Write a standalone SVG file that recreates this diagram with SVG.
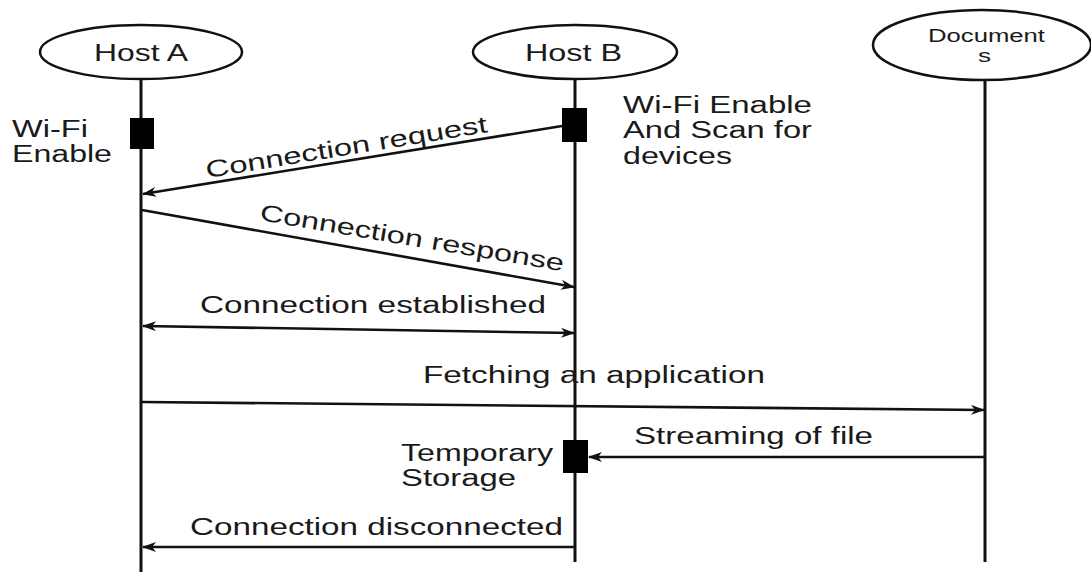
<svg xmlns="http://www.w3.org/2000/svg" width="1091" height="575" viewBox="0 0 1091 575">
<style>
text{font-family:"Liberation Sans",Arial,sans-serif;fill:#1a1a1a;}
.lbl{font-size:23.5px;}
.head{font-size:24px;}
.ell{fill:#fff;stroke:#111;stroke-width:2.5;}
.life{stroke:#111;stroke-width:3;fill:none;}
.bar{fill:#000;}
.msg{stroke:#111;stroke-width:2.6;fill:none;marker-end:url(#ah);}
</style>
<defs>
<marker id="ah" viewBox="0 0 14 10" refX="13" refY="5" markerWidth="14" markerHeight="10" markerUnits="userSpaceOnUse" orient="auto-start-reverse">
<path d="M0,0 L14,5 L0,10 L4,5 Z" fill="#111"/>
</marker>
</defs>
<rect width="1091" height="575" fill="#fff"/>
<g id="hostA">
<line class="life" x1="141" y1="79" x2="141" y2="572"/>
<ellipse class="ell" cx="141" cy="52" rx="101" ry="27"/>
<text class="head" x="94" y="61" textLength="94" lengthAdjust="spacingAndGlyphs">Host A</text>
<rect class="bar" x="130" y="118" width="24" height="31"/>
<text class="lbl" x="12" y="137" textLength="76" lengthAdjust="spacingAndGlyphs">Wi-Fi</text>
<text class="lbl" x="12" y="162" textLength="100" lengthAdjust="spacingAndGlyphs">Enable</text>
</g>
<g id="hostB">
<line class="life" x1="575" y1="79" x2="575" y2="562"/>
<ellipse class="ell" cx="575" cy="52" rx="102" ry="27"/>
<text class="head" x="525" y="61" textLength="97" lengthAdjust="spacingAndGlyphs">Host B</text>
<rect class="bar" x="562" y="108" width="25" height="34"/>
<text class="lbl" x="623" y="113" textLength="189" lengthAdjust="spacingAndGlyphs">Wi-Fi Enable</text>
<text class="lbl" x="623" y="138" textLength="189" lengthAdjust="spacingAndGlyphs">And Scan for</text>
<text class="lbl" x="623" y="164" textLength="109" lengthAdjust="spacingAndGlyphs">devices</text>
<rect class="bar" x="563" y="440" width="25" height="33"/>
<text class="lbl" x="401" y="461" textLength="152" lengthAdjust="spacingAndGlyphs">Temporary</text>
<text class="lbl" x="401" y="486" textLength="115" lengthAdjust="spacingAndGlyphs">Storage</text>
</g>
<g id="documents">
<line class="life" x1="985" y1="80" x2="985" y2="562"/>
<ellipse class="ell" cx="982" cy="45" rx="109" ry="35"/>
<text x="928" y="42" font-size="18" textLength="117" lengthAdjust="spacingAndGlyphs">Document</text>
<text x="978" y="62" font-size="18" textLength="13" lengthAdjust="spacingAndGlyphs">s</text>
</g>
<g id="connectors">
<line class="msg" x1="562" y1="126" x2="143" y2="194"/>
<text class="lbl" transform="translate(207,178) rotate(-9.3)" textLength="285" lengthAdjust="spacingAndGlyphs">Connection request</text>
<line class="msg" x1="142" y1="210" x2="574" y2="287"/>
<text class="lbl" transform="translate(259,220) rotate(9.6)" textLength="308" lengthAdjust="spacingAndGlyphs">Connection response</text>
<line class="msg" x1="143" y1="326" x2="574" y2="333" style="marker-start:url(#ah)"/>
<text class="lbl" x="200" y="313" textLength="346" lengthAdjust="spacingAndGlyphs">Connection established</text>
<line class="msg" x1="142" y1="402" x2="984" y2="410"/>
<text class="lbl" x="423" y="383" textLength="342" lengthAdjust="spacingAndGlyphs">Fetching an application</text>
<line class="msg" x1="985" y1="457" x2="589" y2="457"/>
<text class="lbl" x="634" y="444" textLength="239" lengthAdjust="spacingAndGlyphs">Streaming of file</text>
<line class="msg" x1="575" y1="547" x2="143" y2="547"/>
<text class="lbl" x="190" y="535" textLength="373" lengthAdjust="spacingAndGlyphs">Connection disconnected</text>
</g>
</svg>
